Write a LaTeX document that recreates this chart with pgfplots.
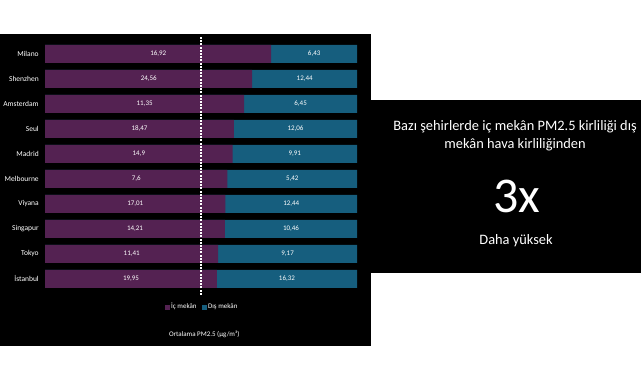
\documentclass[border=0pt]{standalone}
\usepackage{pgfplots}
\pgfplotsset{compat=1.18}
\usepackage{pgfplotstable}
\usepackage{fontspec}
\setmainfont{Carlito}
\definecolor{inc}{RGB}{84,34,82}
\definecolor{outc}{RGB}{22,94,126}
\pgfplotstableread{
y in out
0 19.95 16.32
1 11.41 9.17
2 14.21 10.46
3 17.01 12.44
4 7.6 5.42
5 14.9 9.91
6 18.47 12.06
7 11.35 6.45
8 24.56 12.44
9 16.92 6.43
}\data
\begin{document}
\begin{tikzpicture}
\fill[white] (0pt,0pt) rectangle (641pt,380pt);
\fill[black] (0pt,34pt) rectangle (371pt,346pt);
\fill[black] (371pt,107pt) rectangle (641pt,280pt);
\node[text=white, font=\fontsize{14.4}{18}\selectfont, align=center] at (515pt,244pt) {Bazı şehirlerde iç mekân PM2.5 kirliliği dış\\mekân hava kirliliğinden};
\node[text=white, font=\fontsize{50}{56}\selectfont] at (517pt,183pt) {3x};
\node[text=white, font=\fontsize{14.4}{18}\selectfont] at (516pt,139pt) {Daha yüksek};
\begin{axis}[
  at={(45pt,88.5pt)}, anchor=south west,
  scale only axis, width=312pt, height=250pt,
  xmin=0, xmax=100, ymin=-0.5, ymax=9.5,
  clip=false,
  axis line style={draw=none},
  xtick=\empty, ytick={0,...,9},
  yticklabels={İstanbul,Tokyo,Singapur,Viyana,Melbourne,Madrid,Seul,Amsterdam,Shenzhen,Milano},
  yticklabel style={text=white, font=\fontsize{7.5}{9}\selectfont, xshift=-3pt},
  major tick length=0pt,
  xlabel={Ortalama PM2.5 (µg/m³)},
  xlabel style={at={(axis description cs:0.51,-0.174)}, anchor=center, text=white, font=\fontsize{7}{8}\selectfont},
  legend style={at={(0.503,-0.062)}, anchor=center, draw=none, fill=none, text=white,
    font=\fontsize{7}{8}\selectfont, legend columns=2,
    /tikz/every even column/.append style={column sep=3pt}},
  nodes near coords={\pgfmathprintnumber[use comma,fixed,precision=2,assume math mode=true]{\pgfplotspointmeta}},
  every node near coord/.style={anchor=center, text=white, font=\fontsize{7}{8}\selectfont},
]
\addlegendimage{legend image code/.code={\fill[inc] (0pt,-2pt) rectangle (4pt,2pt);}}
\addlegendentry{İç mekân}
\addlegendimage{legend image code/.code={\fill[outc] (0pt,-2pt) rectangle (4pt,2pt);}}
\addlegendentry{Dış mekân}
% full bar: outdoor share fills the rest up to 100 %
\addplot[xbar, bar shift=0pt, bar width=18pt, fill=outc, draw=none, forget plot, nodes near coords=]
  table[x expr={100*(\thisrow{in}+\thisrow{out})/(\thisrow{in}+\thisrow{out})}, y=y] {\data};
% indoor share
\addplot[xbar, bar shift=0pt, bar width=18pt, fill=inc, draw=none, forget plot, nodes near coords=]
  table[x expr={100*\thisrow{in}/(\thisrow{in}+\thisrow{out})}, y=y] {\data};
% labels, centred in each segment
\addplot[draw=none, mark=none, forget plot, point meta=\thisrow{in}]
  table[x expr={50*\thisrow{in}/(\thisrow{in}+\thisrow{out})}, y=y] {\data};
\addplot[draw=none, mark=none, forget plot, point meta=\thisrow{out}]
  table[x expr={50+50*\thisrow{in}/(\thisrow{in}+\thisrow{out})}, y=y] {\data};
\draw[white, line width=1.5pt, dash pattern=on 2pt off 1.2pt] (axis cs:50,-0.64) -- (axis cs:50,9.72);
\end{axis}
\end{tikzpicture}
\end{document}
